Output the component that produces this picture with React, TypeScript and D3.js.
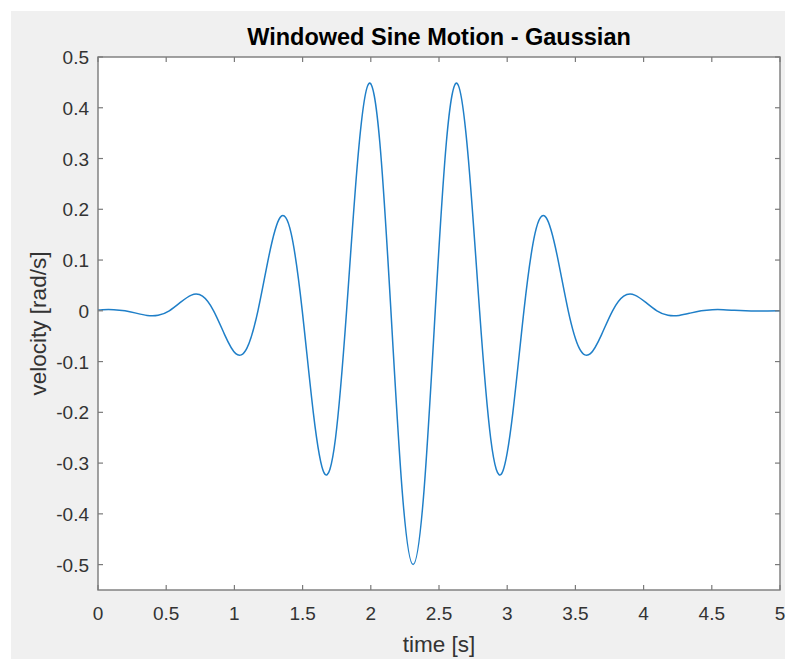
import React from "react";
import * as d3 from "d3";

const titleText = "Windowed Sine Motion - Gaussian";
const xLabel = "time [s]";
const yLabel = "velocity [rad/s]";

const xTicks = [0, 0.5, 1, 1.5, 2, 2.5, 3, 3.5, 4, 4.5, 5];
const yTicks = [-0.5, -0.4, -0.3, -0.2, -0.1, 0, 0.1, 0.2, 0.3, 0.4, 0.5];

// time samples [s]
const timeValues = [
  0, 0.035, 0.116, 0.1975, 0.279, 0.36, 0.441, 0.5225, 0.604, 0.685, 0.766,
  0.8475, 0.929, 1.01, 1.091, 1.1725, 1.254, 1.335, 1.416, 1.4975, 1.579,
  1.66, 1.741, 1.8225, 1.904, 1.985, 2.066, 2.1475, 2.229, 2.31, 2.391,
  2.4725, 2.554, 2.635, 2.716, 2.7975, 2.879, 2.96, 3.041, 3.1225, 3.204,
  3.285, 3.366, 3.4475, 3.529, 3.61, 3.691, 3.7725, 3.854, 3.935, 4.016,
  4.0975, 4.179, 4.26, 4.341, 4.4225, 4.504, 4.585, 4.666, 4.7475, 4.829,
  4.91, 5,
];

// velocity samples [rad/s]
const velocityValues = [
  0.0015, 0.0022, 0.0022, 0, -0.0046, -0.0091, -0.0089, 0, 0.0165, 0.031,
  0.0288, 0, -0.0474, -0.0844, -0.074, 0, 0.1092, 0.1838, 0.1525, 0,
  -0.2014, -0.3205, -0.2515, 0, 0.297, 0.4475, 0.332, 0, -0.351, -0.5,
  -0.351, 0, 0.332, 0.4475, 0.297, 0, -0.2515, -0.3205, -0.2014, 0,
  0.1525, 0.1838, 0.1092, 0, -0.074, -0.0844, -0.0474, 0, 0.0288, 0.031,
  0.0165, 0, -0.0089, -0.0091, -0.0046, 0, 0.0022, 0.0022, 0.001, 0,
  -0.0004, -0.0003, 0,
];

const W = 794;
const H = 659;
const left = 98;
const right = 780;
const top = 57;
const bottom = 590;
const axisColor = "#7a7a7a";
const textColor = "#333333";
const font = "'Liberation Sans', Arial, Helvetica, sans-serif";

function fmt(v: number) {
  const r = Math.round(v * 10) / 10;
  return String(r);
}

export default function App() {
  const x = d3.scaleLinear().domain([0, 5]).range([left, right]);
  const y = d3.scaleLinear().domain([-0.55, 0.5]).range([bottom, top]);
  const pts: [number, number][] = timeValues.map((t, i) => [t, velocityValues[i]]);
  const line = d3
    .line<[number, number]>()
    .x((d) => x(d[0]))
    .y((d) => y(d[1]))
    .curve(d3.curveNatural);
  const tl = 5;

  return (
    <div style={{ position: "absolute", left: 0, top: 0, width: W, height: H, overflow: "hidden" }}>
      <svg width={W} height={H} style={{ display: "block", fontFamily: font }}>
        <rect x={0} y={0} width={W} height={H} fill="#ffffff" />
        <rect x={11} y={11} width={774} height={H - 11} fill="#f0f0f0" />
        <rect x={left} y={top} width={right - left} height={bottom - top} fill="#ffffff" />
        <defs>
          <clipPath id="plotclip">
            <rect x={left} y={top} width={right - left} height={bottom - top} />
          </clipPath>
        </defs>
        <path
          d={line(pts) || ""}
          fill="none"
          stroke="#1f7fc8"
          strokeWidth={1.5}
          strokeLinejoin="round"
          clipPath="url(#plotclip)"
        />
        <rect
          x={left}
          y={top}
          width={right - left}
          height={bottom - top}
          fill="none"
          stroke={axisColor}
          strokeWidth={1.4}
        />
        {xTicks.map((t) => (
          <g key={"xt" + t}>
            <line x1={x(t)} x2={x(t)} y1={bottom} y2={bottom - tl} stroke={axisColor} strokeWidth={1.2} />
            <line x1={x(t)} x2={x(t)} y1={top} y2={top + tl} stroke={axisColor} strokeWidth={1.2} />
            <text x={x(t)} y={620} textAnchor="middle" fontSize={19} fill={textColor}>
              {fmt(t)}
            </text>
          </g>
        ))}
        {yTicks.map((t) => (
          <g key={"yt" + t}>
            <line x1={left} x2={left + tl} y1={y(t)} y2={y(t)} stroke={axisColor} strokeWidth={1.2} />
            <line x1={right} x2={right - tl} y1={y(t)} y2={y(t)} stroke={axisColor} strokeWidth={1.2} />
            <text x={89} y={y(t) + 7} textAnchor="end" fontSize={19} fill={textColor}>
              {fmt(t)}
            </text>
          </g>
        ))}
        <text x={(left + right) / 2} y={45} textAnchor="middle" fontSize={23.5} fontWeight="bold" fill="#000000">
          {titleText}
        </text>
        <text x={(left + right) / 2} y={652} textAnchor="middle" fontSize={22.5} fill={textColor}>
          {xLabel}
        </text>
        <text
          transform={`translate(45.5, ${(top + bottom) / 2}) rotate(-90)`}
          textAnchor="middle"
          fontSize={22.5}
          fill={textColor}
        >
          {yLabel}
        </text>
      </svg>
    </div>
  );
}
